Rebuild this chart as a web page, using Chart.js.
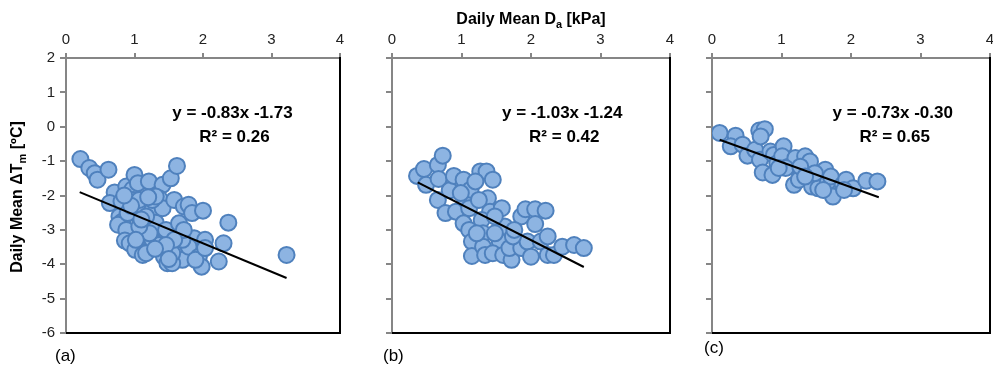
<!DOCTYPE html>
<html>
<head>
<meta charset="utf-8">
<script src="https://cdn.jsdelivr.net/npm/chart.js@4.4.1/dist/chart.umd.min.js"></script>
<style>
html, body { margin: 0; padding: 0; background: #fff; overflow: hidden; }
#wrap { position: relative; width: 993px; height: 365px; overflow: hidden; }
canvas { position: absolute; top: 0; }
</style>
</head>
<body>
<div id="wrap">
  <canvas id="chartA" width="350" height="365" style="left:0px"></canvas>
  <canvas id="chartB" width="335" height="365" style="left:345px"></canvas>
  <canvas id="chartC" width="320" height="365" style="left:680px"></canvas>
</div>
<script>
// Daily mean Da [kPa] vs daily mean dTm [C]
const aX = [0.21, 0.34, 0.42, 0.46, 0.62, 0.71, 0.64, 0.88, 1.00, 0.97, 1.05, 1.21, 0.81, 0.78, 0.82, 0.76,
            0.88, 0.86, 0.93, 1.01, 1.12, 1.13, 1.00, 1.13, 1.26, 1.31, 1.26, 1.36, 1.43, 1.46, 1.41, 1.53,
            1.62, 1.36, 1.41, 1.58, 1.65, 1.63, 1.70, 1.48, 1.55, 1.72, 1.79, 1.84, 2.00, 1.87, 1.79, 1.94,
            1.98, 1.89, 2.03, 2.03, 2.23, 2.30, 2.37, 3.22, 1.22, 1.07, 1.17, 1.70, 0.98, 1.07, 0.90, 1.26,
            1.31, 1.17, 1.02, 1.55, 1.72, 1.58, 1.46, 0.95, 1.10, 1.30, 1.50, 0.85, 1.20];
const aY = [-0.94, -1.20, -1.35, -1.54, -1.25, -1.91, -2.22, -1.74, -1.40, -1.82, -1.64, -1.59, -2.17, -2.61, -2.76, -2.85,
            -3.00, -3.31, -3.39, -3.58, -3.73, -3.19, -2.51, -2.32, -2.42, -2.79, -3.29, -3.44, -3.78, -3.00, -1.69, -1.50,
            -1.14, -2.08, -2.37, -2.13, -2.81, -3.53, -3.87, -3.97, -3.97, -2.32, -2.27, -2.51, -2.44, -3.24, -3.49, -3.78,
            -4.07, -3.87, -3.29, -3.53, -3.92, -3.39, -2.79, -3.73, -3.10, -2.90, -2.61, -3.29, -2.13, -2.13, -2.51, -2.13,
            -2.03, -3.68, -3.29, -3.68, -3.00, -3.29, -3.44, -2.30, -2.70, -3.55, -3.85, -2.00, -2.05];

const bX = [0.36, 0.46, 0.49, 0.66, 0.73, 0.67, 0.66, 0.77, 0.83, 0.89, 0.92, 1.03, 1.06, 1.13, 1.11, 1.03,
            1.11, 1.15, 1.15, 1.27, 1.36, 1.45, 1.20, 1.38, 1.41, 1.29, 1.31, 1.31, 1.34, 1.58, 1.55, 1.55,
            1.45, 1.60, 1.72, 1.69, 1.62, 1.86, 1.92, 2.06, 2.21, 2.06, 1.86, 1.95, 2.00, 2.14, 2.24, 2.24,
            2.33, 2.45, 2.62, 2.76, 1.74, 1.76, 1.48, 1.25, 0.99, 1.22, 1.48];
const bY = [-1.43, -1.23, -1.69, -1.11, -0.84, -1.52, -2.13, -2.51, -1.85, -1.43, -2.47, -1.54, -2.13, -1.83, -2.37, -2.81,
            -3.00, -3.34, -3.76, -1.30, -1.30, -1.54, -1.59, -2.08, -2.47, -2.71, -3.10, -3.49, -3.73, -2.37, -3.10, -3.34,
            -3.68, -3.73, -3.87, -3.53, -2.90, -2.61, -2.40, -2.40, -2.44, -2.83, -3.53, -3.34, -3.78, -3.34, -3.19, -3.73,
            -3.73, -3.49, -3.44, -3.53, -3.19, -3.00, -3.10, -2.13, -1.93, -3.10, -2.61];

const cX = [0.11, 0.34, 0.27, 0.44, 0.51, 0.62, 0.68, 0.76, 0.70, 0.69, 0.73, 0.87, 0.84, 0.89, 0.94, 1.03,
            1.01, 1.10, 1.20, 1.18, 1.25, 1.34, 1.34, 1.41, 1.44, 1.53, 1.63, 1.67, 1.74, 1.71, 1.88, 1.93,
            2.03, 2.22, 2.38, 1.06, 1.27, 1.48, 1.34, 1.90, 1.60, 0.96];
const cY = [-0.18, -0.26, -0.57, -0.52, -0.84, -0.67, -0.11, -0.07, -0.28, -0.96, -1.33, -1.40, -0.72, -0.82, -1.06, -0.57,
            -0.86, -1.16, -0.91, -1.69, -1.54, -0.86, -1.16, -1.01, -1.74, -1.79, -1.25, -1.59, -2.03, -1.45, -1.69, -1.54,
            -1.79, -1.57, -1.59, -1.20, -1.16, -1.35, -1.45, -1.84, -1.84, -1.20];

// linear trend lines: end points and printed fit
const trendA = { x: [0.20, 3.22], y: [-1.90, -4.40] };
const trendB = { x: [0.37, 2.76], y: [-1.62, -4.08] };
const trendC = { x: [0.11, 2.40], y: [-0.38, -2.05] };
const eqLabels = ['y = -0.83x -1.73', 'y = -1.03x -1.24', 'y = -0.73x -0.30'];
const r2Labels = ['R\u00b2 = 0.26', 'R\u00b2 = 0.42', 'R\u00b2 = 0.65'];
const panelLabels = ['(a)', '(b)', '(c)'];

const FONT = "'Liberation Sans', Arial, sans-serif";

// draw text made of normal and subscript parts
function drawParts(ctx, parts, x, y, size) {
    let total = 0;
    parts.forEach(p => {
        ctx.font = 'bold ' + (p[1] ? Math.round(size * 0.68) : size) + 'px ' + FONT;
        total += ctx.measureText(p[0]).width;
    });
    let cx = x - total / 2;
    ctx.textAlign = 'left';
    ctx.textBaseline = 'middle';
    parts.forEach(p => {
        ctx.font = 'bold ' + (p[1] ? Math.round(size * 0.68) : size) + 'px ' + FONT;
        ctx.fillText(p[0], cx, y + (p[1] ? 5 : 0));
        cx += ctx.measureText(p[0]).width;
    });
}

const panelText = {
    id: 'panelText',
    afterDraw(chart, args, opts) {
        const ctx = chart.ctx;
        const area = chart.chartArea;
        const xs = chart.scales.x, ys = chart.scales.y;
        ctx.save();
        // black frame on right and bottom
        ctx.strokeStyle = '#000';
        ctx.lineWidth = 2;
        ctx.beginPath();
        ctx.moveTo(area.left, area.bottom);
        ctx.lineTo(area.right, area.bottom);
        ctx.lineTo(area.right, area.top - 1);
        ctx.stroke();

        // equation
        ctx.fillStyle = '#000';
        ctx.font = 'bold 17px ' + FONT;
        ctx.textAlign = 'center';
        ctx.textBaseline = 'middle';
        const ex = xs.getPixelForValue(opts.eqX);
        ctx.fillText(opts.eq, ex, ys.getPixelForValue(0.40));
        ctx.fillText(opts.r2, ex + 2, ys.getPixelForValue(-0.30));

        // panel letter
        ctx.font = '17px ' + FONT;
        ctx.textAlign = 'left';
        ctx.fillText(opts.label, area.left + opts.labelDx, area.bottom + opts.labelDy);

        if (opts.xTitle) {
            drawParts(ctx, [['Daily Mean D', 0], ['a', 1], [' [kPa]', 0]], (area.left + area.right) / 2, 20, 16);
        }
        if (opts.yTitle) {
            ctx.translate(18, 197);
            ctx.rotate(-Math.PI / 2);
            drawParts(ctx, [['Daily Mean \u0394T', 0], ['m', 1], [' [\u00baC]', 0]], 0, 0, 16);
        }
        ctx.restore();
    }
};

function makePanel(id, xs, ys, trend, idx, yWidth, padRight, extra) {
    const points = xs.map((v, i) => ({ x: v, y: ys[i] }));
    const trendPts = trend.x.map((v, i) => ({ x: v, y: trend.y[i] }));
    new Chart(document.getElementById(id), {
        type: 'scatter',
        data: {
            datasets: [{
                data: points,
                backgroundColor: '#8DB4E2',
                borderColor: '#4F81BD',
                borderWidth: 2,
                pointRadius: 8,
                order: 1
            }, {
                type: 'line',
                data: trendPts,
                borderColor: '#000',
                borderWidth: 2,
                pointRadius: 0,
                fill: false,
                order: 0
            }]
        },
        plugins: [panelText],
        options: {
            responsive: false,
            animation: false,
            layout: { padding: { top: 0, left: 0, right: padRight, bottom: 32 } },
            plugins: {
                legend: { display: false },
                tooltip: { enabled: false },
                panelText: Object.assign({
                    eq: eqLabels[idx],
                    r2: r2Labels[idx],
                    label: panelLabels[idx]
                }, extra)
            },
            scales: {
                x: {
                    type: 'linear',
                    position: 'top',
                    min: 0,
                    max: 4,
                    ticks: { stepSize: 1, color: '#222', font: { family: FONT, size: 15 }, padding: 4, maxRotation: 0 },
                    grid: { drawOnChartArea: false, tickLength: 5, color: '#868686', lineWidth: 2 },
                    border: { color: '#868686', width: 2 },
                    afterFit(s) { s.height = 58; s.paddingLeft = 0; s.paddingRight = 0; }
                },
                y: {
                    type: 'linear',
                    min: -6,
                    max: 2,
                    ticks: { stepSize: 1, display: idx === 0, color: '#222', font: { family: FONT, size: 15 }, padding: 5 },
                    grid: { drawOnChartArea: false, tickLength: 6, color: '#868686', lineWidth: 2 },
                    border: { color: '#868686', width: 2 },
                    afterFit(s) { s.width = yWidth; s.paddingTop = 0; s.paddingBottom = 0; }
                }
            }
        }
    });
}

makePanel('chartA', aX, aY, trendA, 0, 66, 6, { eqX: 2.43, labelDx: -11, labelDy: 23, yTitle: true });
makePanel('chartB', bX, bY, trendB, 1, 47, 6, { eqX: 2.45, labelDx: -9, labelDy: 23, xTitle: true });
makePanel('chartC', cX, cY, trendC, 2, 32, 6, { eqX: 2.60, labelDx: -8, labelDy: 15 });
</script>
</body>
</html>
